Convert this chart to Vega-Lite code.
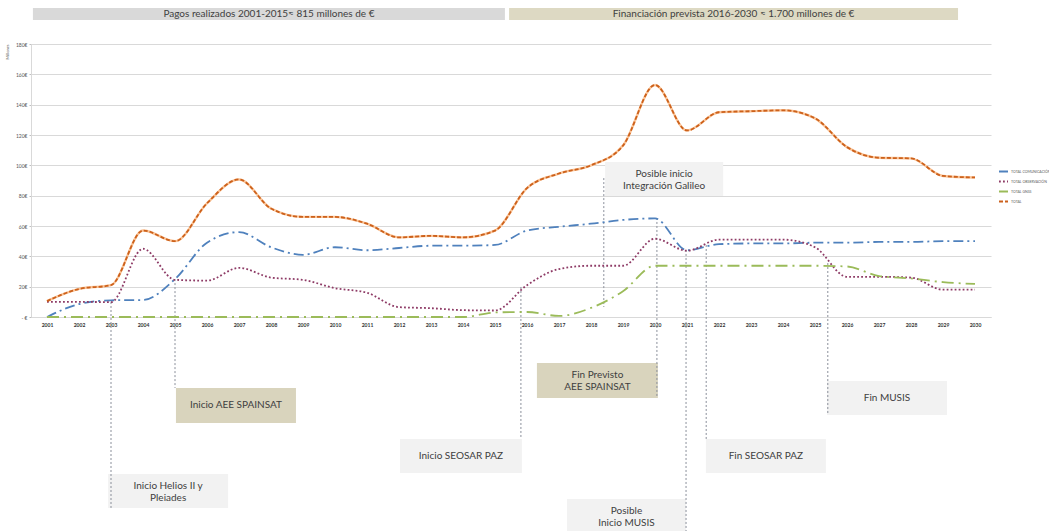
{
  "$schema": "https://vega.github.io/schema/vega-lite/v6.json",
  "width": 960,
  "height": 273,
  "autosize": {"type": "none"},
  "padding": {"left": 31, "top": 44, "right": 58, "bottom": 214},
  "background": "white",
  "config": {"view": {"stroke": null}, "font": "Lato"},
  "datasets": {
    "series": [
      {"anio": 2001, "serie": "TOTAL COMUNICACIÓN", "valor": 0},
      {"anio": 2002, "serie": "TOTAL COMUNICACIÓN", "valor": 8.5},
      {"anio": 2003, "serie": "TOTAL COMUNICACIÓN", "valor": 11},
      {"anio": 2004, "serie": "TOTAL COMUNICACIÓN", "valor": 11.2},
      {"anio": 2005, "serie": "TOTAL COMUNICACIÓN", "valor": 25},
      {"anio": 2006, "serie": "TOTAL COMUNICACIÓN", "valor": 49},
      {"anio": 2007, "serie": "TOTAL COMUNICACIÓN", "valor": 56},
      {"anio": 2008, "serie": "TOTAL COMUNICACIÓN", "valor": 46},
      {"anio": 2009, "serie": "TOTAL COMUNICACIÓN", "valor": 41},
      {"anio": 2010, "serie": "TOTAL COMUNICACIÓN", "valor": 46},
      {"anio": 2011, "serie": "TOTAL COMUNICACIÓN", "valor": 44},
      {"anio": 2012, "serie": "TOTAL COMUNICACIÓN", "valor": 45.5},
      {"anio": 2013, "serie": "TOTAL COMUNICACIÓN", "valor": 47},
      {"anio": 2014, "serie": "TOTAL COMUNICACIÓN", "valor": 47},
      {"anio": 2015, "serie": "TOTAL COMUNICACIÓN", "valor": 47.5},
      {"anio": 2016, "serie": "TOTAL COMUNICACIÓN", "valor": 57},
      {"anio": 2017, "serie": "TOTAL COMUNICACIÓN", "valor": 59.5},
      {"anio": 2018, "serie": "TOTAL COMUNICACIÓN", "valor": 61.5},
      {"anio": 2019, "serie": "TOTAL COMUNICACIÓN", "valor": 64},
      {"anio": 2020, "serie": "TOTAL COMUNICACIÓN", "valor": 65},
      {"anio": 2021, "serie": "TOTAL COMUNICACIÓN", "valor": 44},
      {"anio": 2022, "serie": "TOTAL COMUNICACIÓN", "valor": 48},
      {"anio": 2023, "serie": "TOTAL COMUNICACIÓN", "valor": 48.5},
      {"anio": 2024, "serie": "TOTAL COMUNICACIÓN", "valor": 48.5},
      {"anio": 2025, "serie": "TOTAL COMUNICACIÓN", "valor": 49},
      {"anio": 2026, "serie": "TOTAL COMUNICACIÓN", "valor": 49},
      {"anio": 2027, "serie": "TOTAL COMUNICACIÓN", "valor": 49.5},
      {"anio": 2028, "serie": "TOTAL COMUNICACIÓN", "valor": 49.5},
      {"anio": 2029, "serie": "TOTAL COMUNICACIÓN", "valor": 50},
      {"anio": 2030, "serie": "TOTAL COMUNICACIÓN", "valor": 50},
      {"anio": 2001, "serie": "TOTAL OBSERVACIÓN", "valor": 10},
      {"anio": 2002, "serie": "TOTAL OBSERVACIÓN", "valor": 10},
      {"anio": 2003, "serie": "TOTAL OBSERVACIÓN", "valor": 9.8},
      {"anio": 2004, "serie": "TOTAL OBSERVACIÓN", "valor": 45},
      {"anio": 2005, "serie": "TOTAL OBSERVACIÓN", "valor": 24.5},
      {"anio": 2006, "serie": "TOTAL OBSERVACIÓN", "valor": 24},
      {"anio": 2007, "serie": "TOTAL OBSERVACIÓN", "valor": 32.4},
      {"anio": 2008, "serie": "TOTAL OBSERVACIÓN", "valor": 26},
      {"anio": 2009, "serie": "TOTAL OBSERVACIÓN", "valor": 24.5},
      {"anio": 2010, "serie": "TOTAL OBSERVACIÓN", "valor": 19},
      {"anio": 2011, "serie": "TOTAL OBSERVACIÓN", "valor": 16},
      {"anio": 2012, "serie": "TOTAL OBSERVACIÓN", "valor": 6.5},
      {"anio": 2013, "serie": "TOTAL OBSERVACIÓN", "valor": 5.8},
      {"anio": 2014, "serie": "TOTAL OBSERVACIÓN", "valor": 4.5},
      {"anio": 2015, "serie": "TOTAL OBSERVACIÓN", "valor": 4.3},
      {"anio": 2016, "serie": "TOTAL OBSERVACIÓN", "valor": 21},
      {"anio": 2017, "serie": "TOTAL OBSERVACIÓN", "valor": 31.6},
      {"anio": 2018, "serie": "TOTAL OBSERVACIÓN", "valor": 33.8},
      {"anio": 2019, "serie": "TOTAL OBSERVACIÓN", "valor": 33.8},
      {"anio": 2020, "serie": "TOTAL OBSERVACIÓN", "valor": 51.6},
      {"anio": 2021, "serie": "TOTAL OBSERVACIÓN", "valor": 43.7},
      {"anio": 2022, "serie": "TOTAL OBSERVACIÓN", "valor": 51},
      {"anio": 2023, "serie": "TOTAL OBSERVACIÓN", "valor": 51},
      {"anio": 2024, "serie": "TOTAL OBSERVACIÓN", "valor": 51},
      {"anio": 2025, "serie": "TOTAL OBSERVACIÓN", "valor": 46},
      {"anio": 2026, "serie": "TOTAL OBSERVACIÓN", "valor": 26.5},
      {"anio": 2027, "serie": "TOTAL OBSERVACIÓN", "valor": 26.5},
      {"anio": 2028, "serie": "TOTAL OBSERVACIÓN", "valor": 26},
      {"anio": 2029, "serie": "TOTAL OBSERVACIÓN", "valor": 18},
      {"anio": 2030, "serie": "TOTAL OBSERVACIÓN", "valor": 18},
      {"anio": 2001, "serie": "TOTAL GNSS", "valor": 0},
      {"anio": 2002, "serie": "TOTAL GNSS", "valor": 0},
      {"anio": 2003, "serie": "TOTAL GNSS", "valor": 0},
      {"anio": 2004, "serie": "TOTAL GNSS", "valor": 0},
      {"anio": 2005, "serie": "TOTAL GNSS", "valor": 0},
      {"anio": 2006, "serie": "TOTAL GNSS", "valor": 0},
      {"anio": 2007, "serie": "TOTAL GNSS", "valor": 0},
      {"anio": 2008, "serie": "TOTAL GNSS", "valor": 0},
      {"anio": 2009, "serie": "TOTAL GNSS", "valor": 0},
      {"anio": 2010, "serie": "TOTAL GNSS", "valor": 0},
      {"anio": 2011, "serie": "TOTAL GNSS", "valor": 0},
      {"anio": 2012, "serie": "TOTAL GNSS", "valor": 0},
      {"anio": 2013, "serie": "TOTAL GNSS", "valor": 0},
      {"anio": 2014, "serie": "TOTAL GNSS", "valor": 0},
      {"anio": 2015, "serie": "TOTAL GNSS", "valor": 3},
      {"anio": 2016, "serie": "TOTAL GNSS", "valor": 3.3},
      {"anio": 2017, "serie": "TOTAL GNSS", "valor": 0.7},
      {"anio": 2018, "serie": "TOTAL GNSS", "valor": 6},
      {"anio": 2019, "serie": "TOTAL GNSS", "valor": 17},
      {"anio": 2020, "serie": "TOTAL GNSS", "valor": 33.8},
      {"anio": 2021, "serie": "TOTAL GNSS", "valor": 33.8},
      {"anio": 2022, "serie": "TOTAL GNSS", "valor": 33.8},
      {"anio": 2023, "serie": "TOTAL GNSS", "valor": 33.8},
      {"anio": 2024, "serie": "TOTAL GNSS", "valor": 33.8},
      {"anio": 2025, "serie": "TOTAL GNSS", "valor": 33.8},
      {"anio": 2026, "serie": "TOTAL GNSS", "valor": 33.3},
      {"anio": 2027, "serie": "TOTAL GNSS", "valor": 27},
      {"anio": 2028, "serie": "TOTAL GNSS", "valor": 25.4},
      {"anio": 2029, "serie": "TOTAL GNSS", "valor": 23},
      {"anio": 2030, "serie": "TOTAL GNSS", "valor": 21.8},
      {"anio": 2001, "serie": "TOTAL", "valor": 10.5},
      {"anio": 2002, "serie": "TOTAL", "valor": 18.5},
      {"anio": 2003, "serie": "TOTAL", "valor": 21},
      {"anio": 2004, "serie": "TOTAL", "valor": 57},
      {"anio": 2005, "serie": "TOTAL", "valor": 50},
      {"anio": 2006, "serie": "TOTAL", "valor": 75},
      {"anio": 2007, "serie": "TOTAL", "valor": 90.7},
      {"anio": 2008, "serie": "TOTAL", "valor": 71.5},
      {"anio": 2009, "serie": "TOTAL", "valor": 66},
      {"anio": 2010, "serie": "TOTAL", "valor": 66},
      {"anio": 2011, "serie": "TOTAL", "valor": 61.5},
      {"anio": 2012, "serie": "TOTAL", "valor": 52.5},
      {"anio": 2013, "serie": "TOTAL", "valor": 53.5},
      {"anio": 2014, "serie": "TOTAL", "valor": 52.5},
      {"anio": 2015, "serie": "TOTAL", "valor": 57},
      {"anio": 2016, "serie": "TOTAL", "valor": 85},
      {"anio": 2017, "serie": "TOTAL", "valor": 94.6},
      {"anio": 2018, "serie": "TOTAL", "valor": 100},
      {"anio": 2019, "serie": "TOTAL", "valor": 113},
      {"anio": 2020, "serie": "TOTAL", "valor": 153},
      {"anio": 2021, "serie": "TOTAL", "valor": 123},
      {"anio": 2022, "serie": "TOTAL", "valor": 135},
      {"anio": 2023, "serie": "TOTAL", "valor": 135.7},
      {"anio": 2024, "serie": "TOTAL", "valor": 136.3},
      {"anio": 2025, "serie": "TOTAL", "valor": 131},
      {"anio": 2026, "serie": "TOTAL", "valor": 112},
      {"anio": 2027, "serie": "TOTAL", "valor": 105},
      {"anio": 2028, "serie": "TOTAL", "valor": 104.6},
      {"anio": 2029, "serie": "TOTAL", "valor": 93},
      {"anio": 2030, "serie": "TOTAL", "valor": 92}
    ],
    "cabecera": [
      {"texto": "Pagos realizados 2001-2015≈ 815 millones de €", "grupo": "Pagos", "anio": 2000.56, "anio2": 2015.31, "valor": 195.8, "valor2": 203.7, "anio_c": 2007.935, "valor_c": 199.8},
      {"texto": "Financiación prevista 2016-2030  ≈ 1.700  millones de €", "grupo": "Prevista", "anio": 2015.44, "anio2": 2029.47, "valor": 195.8, "valor2": 203.7, "anio_c": 2022.455, "valor_c": 199.8}
    ],
    "cajas": [
      {"texto": "Inicio Helios II y\nPleiades", "grupo": "Hito", "anio": 2002.91, "anio2": 2006.66, "valor": -125.9, "valor2": -103.5, "anio_c": 2004.785, "valor_c": -111.4},
      {"texto": "Inicio AEE SPAINSAT", "grupo": "Hito SPAINSAT", "anio": 2005.03, "anio2": 2008.78, "valor": -69.9, "valor2": -46.8, "anio_c": 2006.905, "valor_c": -58.35},
      {"texto": "Inicio SEOSAR PAZ", "grupo": "Hito", "anio": 2012.03, "anio2": 2015.84, "valor": -102.9, "valor2": -80.4, "anio_c": 2013.935, "valor_c": -91.65},
      {"texto": "Fin Previsto\nAEE SPAINSAT", "grupo": "Hito SPAINSAT", "anio": 2016.31, "anio2": 2020.09, "valor": -53.4, "valor2": -30.3, "anio_c": 2018.2, "valor_c": -38.55},
      {"texto": "Posible inicio\nIntegración Galileo", "grupo": "Hito", "anio": 2018.44, "anio2": 2022.13, "valor": 79.8, "valor2": 102.2, "anio_c": 2020.285, "valor_c": 94.3},
      {"texto": "Posible\nInicio MUSIS", "grupo": "Hito", "anio": 2017.25, "anio2": 2020.97, "valor": -142.4, "valor2": -120, "anio_c": 2019.11, "valor_c": -127.9},
      {"texto": "Fin SEOSAR  PAZ", "grupo": "Hito", "anio": 2021.59, "anio2": 2025.34, "valor": -102.9, "valor2": -80.4, "anio_c": 2023.465, "valor_c": -91.65},
      {"texto": "Fin MUSIS", "grupo": "Hito", "anio": 2025.375, "anio2": 2029.125, "valor": -64.6, "valor2": -42.2, "anio_c": 2027.25, "valor_c": -53.4}
    ],
    "guias": [
      {"anio": 2003, "valor": 9.9, "valor2": -125.9},
      {"anio": 2005, "valor": 25, "valor2": -46.8},
      {"anio": 2015.81, "valor": 19.8, "valor2": -80.4},
      {"anio": 2020.06, "valor": 65.3, "valor2": -53.4},
      {"anio": 2018.4, "valor": 91.6, "valor2": 6.6},
      {"anio": 2020.97, "valor": 44.2, "valor2": -142.4},
      {"anio": 2021.6, "valor": 47.5, "valor2": -80.4},
      {"anio": 2025.4, "valor": 35.6, "valor2": -64.6}
    ]
  },
  "layer": [
    {
      "data": {"name": "cabecera"},
      "mark": {"type": "rect"},
      "encoding": {
        "x": {"field": "anio", "type": "quantitative", "title": null, "scale": {"domain": [2000.5, 2030.5], "nice": false, "zero": false},
          "axis": {"values": [2001, 2002, 2003, 2004, 2005, 2006, 2007, 2008, 2009, 2010, 2011, 2012, 2013, 2014, 2015, 2016, 2017, 2018, 2019, 2020, 2021, 2022, 2023, 2024, 2025, 2026, 2027, 2028, 2029, 2030], "format": "d", "grid": false, "ticks": false, "labelOverlap": false, "domainColor": "#d9d9d9", "labelFontSize": 5, "labelFontWeight": "bold", "labelColor": "#333333", "labelPadding": 5}},
        "x2": {"field": "anio2"},
        "y": {"field": "valor", "type": "quantitative", "title": "Millones", "scale": {"domain": [0, 180], "nice": false, "zero": false},
          "axis": {"values": [0, 20, 40, 60, 80, 100, 120, 140, 160, 180], "labelExpr": "datum.value == 0 ? '- €' : datum.value + '€'", "labelOverlap": false, "grid": true, "gridColor": "#d9d9d9", "domainColor": "#d9d9d9", "tickColor": "#bfbfbf", "tickSize": 2, "labelFontSize": 5, "labelColor": "#595959", "labelPadding": 2, "titleFontSize": 4, "titleFontWeight": "normal", "titleColor": "#595959", "titleAnchor": "end", "titlePadding": 6}},
        "y2": {"field": "valor2"},
        "fill": {"field": "grupo", "type": "nominal", "legend": null, "scale": {"domain": ["Pagos", "Prevista", "Hito", "Hito SPAINSAT"], "range": ["#d9d9d9", "#ddd9c3", "#f2f2f2", "#d9d4bd"]}}
      }
    },
    {
      "data": {"name": "cajas"},
      "mark": {"type": "rect"},
      "encoding": {
        "x": {"field": "anio", "type": "quantitative", "title": null, "scale": {"domain": [2000.5, 2030.5], "nice": false, "zero": false},
          "axis": {"values": [2001, 2002, 2003, 2004, 2005, 2006, 2007, 2008, 2009, 2010, 2011, 2012, 2013, 2014, 2015, 2016, 2017, 2018, 2019, 2020, 2021, 2022, 2023, 2024, 2025, 2026, 2027, 2028, 2029, 2030], "format": "d", "grid": false, "ticks": false, "labelOverlap": false, "domainColor": "#d9d9d9", "labelFontSize": 5, "labelFontWeight": "bold", "labelColor": "#333333", "labelPadding": 5}},
        "x2": {"field": "anio2"},
        "y": {"field": "valor", "type": "quantitative", "title": "Millones", "scale": {"domain": [0, 180], "nice": false, "zero": false},
          "axis": {"values": [0, 20, 40, 60, 80, 100, 120, 140, 160, 180], "labelExpr": "datum.value == 0 ? '- €' : datum.value + '€'", "labelOverlap": false, "grid": true, "gridColor": "#d9d9d9", "domainColor": "#d9d9d9", "tickColor": "#bfbfbf", "tickSize": 2, "labelFontSize": 5, "labelColor": "#595959", "labelPadding": 2, "titleFontSize": 4, "titleFontWeight": "normal", "titleColor": "#595959", "titleAnchor": "end", "titlePadding": 6}},
        "y2": {"field": "valor2"},
        "fill": {"field": "grupo", "type": "nominal", "legend": null, "scale": {"domain": ["Pagos", "Prevista", "Hito", "Hito SPAINSAT"], "range": ["#d9d9d9", "#ddd9c3", "#f2f2f2", "#d9d4bd"]}}
      }
    },
    {
      "data": {"name": "guias"},
      "mark": {"type": "rule", "color": "#8a8f9a", "strokeWidth": 1, "strokeDash": [2, 2]},
      "encoding": {
        "x": {"field": "anio", "type": "quantitative", "title": null, "scale": {"domain": [2000.5, 2030.5], "nice": false, "zero": false},
          "axis": {"values": [2001, 2002, 2003, 2004, 2005, 2006, 2007, 2008, 2009, 2010, 2011, 2012, 2013, 2014, 2015, 2016, 2017, 2018, 2019, 2020, 2021, 2022, 2023, 2024, 2025, 2026, 2027, 2028, 2029, 2030], "format": "d", "grid": false, "ticks": false, "labelOverlap": false, "domainColor": "#d9d9d9", "labelFontSize": 5, "labelFontWeight": "bold", "labelColor": "#333333", "labelPadding": 5}},
        "y": {"field": "valor", "type": "quantitative", "title": "Millones", "scale": {"domain": [0, 180], "nice": false, "zero": false},
          "axis": {"values": [0, 20, 40, 60, 80, 100, 120, 140, 160, 180], "labelExpr": "datum.value == 0 ? '- €' : datum.value + '€'", "labelOverlap": false, "grid": true, "gridColor": "#d9d9d9", "domainColor": "#d9d9d9", "tickColor": "#bfbfbf", "tickSize": 2, "labelFontSize": 5, "labelColor": "#595959", "labelPadding": 2, "titleFontSize": 4, "titleFontWeight": "normal", "titleColor": "#595959", "titleAnchor": "end", "titlePadding": 6}},
        "y2": {"field": "valor2"}
      }
    },
    {
      "data": {"name": "series"},
      "transform": [{"filter": "datum.serie == 'TOTAL'"}],
      "mark": {"type": "line", "color": "#fbc497", "strokeWidth": 2.4, "interpolate": "monotone"},
      "encoding": {
        "x": {"field": "anio", "type": "quantitative", "title": null, "scale": {"domain": [2000.5, 2030.5], "nice": false, "zero": false},
          "axis": {"values": [2001, 2002, 2003, 2004, 2005, 2006, 2007, 2008, 2009, 2010, 2011, 2012, 2013, 2014, 2015, 2016, 2017, 2018, 2019, 2020, 2021, 2022, 2023, 2024, 2025, 2026, 2027, 2028, 2029, 2030], "format": "d", "grid": false, "ticks": false, "labelOverlap": false, "domainColor": "#d9d9d9", "labelFontSize": 5, "labelFontWeight": "bold", "labelColor": "#333333", "labelPadding": 5}},
        "y": {"field": "valor", "type": "quantitative", "title": "Millones", "scale": {"domain": [0, 180], "nice": false, "zero": false},
          "axis": {"values": [0, 20, 40, 60, 80, 100, 120, 140, 160, 180], "labelExpr": "datum.value == 0 ? '- €' : datum.value + '€'", "labelOverlap": false, "grid": true, "gridColor": "#d9d9d9", "domainColor": "#d9d9d9", "tickColor": "#bfbfbf", "tickSize": 2, "labelFontSize": 5, "labelColor": "#595959", "labelPadding": 2, "titleFontSize": 4, "titleFontWeight": "normal", "titleColor": "#595959", "titleAnchor": "end", "titlePadding": 6}}
      }
    },
    {
      "data": {"name": "series"},
      "mark": {"type": "line", "strokeWidth": 1.8, "interpolate": "monotone"},
      "encoding": {
        "x": {"field": "anio", "type": "quantitative", "title": null, "scale": {"domain": [2000.5, 2030.5], "nice": false, "zero": false},
          "axis": {"values": [2001, 2002, 2003, 2004, 2005, 2006, 2007, 2008, 2009, 2010, 2011, 2012, 2013, 2014, 2015, 2016, 2017, 2018, 2019, 2020, 2021, 2022, 2023, 2024, 2025, 2026, 2027, 2028, 2029, 2030], "format": "d", "grid": false, "ticks": false, "labelOverlap": false, "domainColor": "#d9d9d9", "labelFontSize": 5, "labelFontWeight": "bold", "labelColor": "#333333", "labelPadding": 5}},
        "y": {"field": "valor", "type": "quantitative", "title": "Millones", "scale": {"domain": [0, 180], "nice": false, "zero": false},
          "axis": {"values": [0, 20, 40, 60, 80, 100, 120, 140, 160, 180], "labelExpr": "datum.value == 0 ? '- €' : datum.value + '€'", "labelOverlap": false, "grid": true, "gridColor": "#d9d9d9", "domainColor": "#d9d9d9", "tickColor": "#bfbfbf", "tickSize": 2, "labelFontSize": 5, "labelColor": "#595959", "labelPadding": 2, "titleFontSize": 4, "titleFontWeight": "normal", "titleColor": "#595959", "titleAnchor": "end", "titlePadding": 6}},
        "color": {
          "field": "serie", "type": "nominal",
          "scale": {"domain": ["TOTAL COMUNICACIÓN", "TOTAL OBSERVACIÓN", "TOTAL GNSS", "TOTAL"], "range": ["#4f81bd", "#8e3b66", "#9bbb59", "#cc611c"]},
          "legend": {"title": null, "orient": "none", "legendX": 967, "legendY": 122, "labelFontSize": 3.5, "labelColor": "#595959", "symbolType": "stroke", "symbolStrokeWidth": 2, "symbolSize": 81, "rowPadding": 0, "labelOffset": 2}
        },
        "strokeDash": {
          "field": "serie", "type": "nominal",
          "scale": {"domain": ["TOTAL COMUNICACIÓN", "TOTAL OBSERVACIÓN", "TOTAL GNSS", "TOTAL"], "range": [[10, 4, 2, 4], [1.8, 2.2], [12, 5, 2, 5], [4, 2]]},
          "legend": {"title": null, "orient": "none", "legendX": 967, "legendY": 122, "labelFontSize": 3.5, "labelColor": "#595959", "symbolType": "stroke", "symbolStrokeWidth": 2, "symbolSize": 81, "rowPadding": 0, "labelOffset": 2}
        }
      }
    },
    {
      "data": {"name": "cabecera"},
      "mark": {"type": "text", "fontSize": 10, "color": "#404040", "align": "center", "baseline": "middle"},
      "encoding": {
        "x": {"field": "anio_c", "type": "quantitative", "title": null, "scale": {"domain": [2000.5, 2030.5], "nice": false, "zero": false},
          "axis": {"values": [2001, 2002, 2003, 2004, 2005, 2006, 2007, 2008, 2009, 2010, 2011, 2012, 2013, 2014, 2015, 2016, 2017, 2018, 2019, 2020, 2021, 2022, 2023, 2024, 2025, 2026, 2027, 2028, 2029, 2030], "format": "d", "grid": false, "ticks": false, "labelOverlap": false, "domainColor": "#d9d9d9", "labelFontSize": 5, "labelFontWeight": "bold", "labelColor": "#333333", "labelPadding": 5}},
        "y": {"field": "valor_c", "type": "quantitative", "title": "Millones", "scale": {"domain": [0, 180], "nice": false, "zero": false},
          "axis": {"values": [0, 20, 40, 60, 80, 100, 120, 140, 160, 180], "labelExpr": "datum.value == 0 ? '- €' : datum.value + '€'", "labelOverlap": false, "grid": true, "gridColor": "#d9d9d9", "domainColor": "#d9d9d9", "tickColor": "#bfbfbf", "tickSize": 2, "labelFontSize": 5, "labelColor": "#595959", "labelPadding": 2, "titleFontSize": 4, "titleFontWeight": "normal", "titleColor": "#595959", "titleAnchor": "end", "titlePadding": 6}},
        "text": {"field": "texto"}
      }
    },
    {
      "data": {"name": "cajas"},
      "mark": {"type": "text", "fontSize": 10, "color": "#404040", "align": "center", "baseline": "middle", "lineBreak": "\n", "lineHeight": 12},
      "encoding": {
        "x": {"field": "anio_c", "type": "quantitative", "title": null, "scale": {"domain": [2000.5, 2030.5], "nice": false, "zero": false},
          "axis": {"values": [2001, 2002, 2003, 2004, 2005, 2006, 2007, 2008, 2009, 2010, 2011, 2012, 2013, 2014, 2015, 2016, 2017, 2018, 2019, 2020, 2021, 2022, 2023, 2024, 2025, 2026, 2027, 2028, 2029, 2030], "format": "d", "grid": false, "ticks": false, "labelOverlap": false, "domainColor": "#d9d9d9", "labelFontSize": 5, "labelFontWeight": "bold", "labelColor": "#333333", "labelPadding": 5}},
        "y": {"field": "valor_c", "type": "quantitative", "title": "Millones", "scale": {"domain": [0, 180], "nice": false, "zero": false},
          "axis": {"values": [0, 20, 40, 60, 80, 100, 120, 140, 160, 180], "labelExpr": "datum.value == 0 ? '- €' : datum.value + '€'", "labelOverlap": false, "grid": true, "gridColor": "#d9d9d9", "domainColor": "#d9d9d9", "tickColor": "#bfbfbf", "tickSize": 2, "labelFontSize": 5, "labelColor": "#595959", "labelPadding": 2, "titleFontSize": 4, "titleFontWeight": "normal", "titleColor": "#595959", "titleAnchor": "end", "titlePadding": 6}},
        "text": {"field": "texto"}
      }
    }
  ]
}
